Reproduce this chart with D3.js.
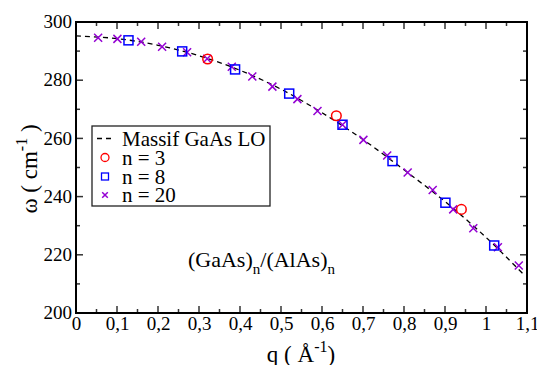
<!DOCTYPE html>
<html><head><meta charset="utf-8">
<script src="https://cdn.jsdelivr.net/npm/d3@7"></script>
<style>body{margin:0;background:#fff}svg{display:block}</style>
</head><body>
<svg id="c" width="537" height="365"></svg>
<script>
// Data
const lineQ = [0, 0.1, 0.2, 0.3, 0.4, 0.5, 0.6, 0.7, 0.8, 0.9, 1.0, 1.09];
const lineW = [295.2, 294.3, 292.0, 288.4, 283.4, 276.9, 268.8, 259.6, 249.2, 238.3, 226.0, 213.5];
const n3Q = [0.321, 0.635, 0.940];
const n3W = [287.3, 267.8, 235.6];
const n8Q = [0.128, 0.259, 0.388, 0.520, 0.650, 0.772, 0.901, 1.020];
const n8W = [293.7, 289.9, 283.7, 275.4, 264.7, 252.2, 237.9, 223.2];
const n20Q = [0.054, 0.101, 0.159, 0.210, 0.271, 0.320, 0.380, 0.430, 0.479, 0.540, 0.589, 0.650, 0.701, 0.759, 0.809, 0.870, 0.920, 0.969, 1.029, 1.080];
const n20W = [294.6, 294.2, 293.2, 291.5, 289.6, 287.4, 284.6, 281.3, 277.8, 273.5, 269.4, 264.7, 259.5, 254.1, 248.3, 242.3, 235.6, 229.1, 222.6, 216.3];
const xTicks = [0, 0.1, 0.2, 0.3, 0.4, 0.5, 0.6, 0.7, 0.8, 0.9, 1.0, 1.1];
const xTickLabels = ["0", "0,1", "0,2", "0,3", "0,4", "0,5", "0,6", "0,7", "0,8", "0,9", "1", "1,1"];
const yTicks = [200, 220, 240, 260, 280, 300];
const legendLabels = ["Massif GaAs LO", "n = 3", "n = 8", "n = 20"];

const FONT = "'Liberation Serif'";
const svg = d3.select("#c");
const L = 76, R = 527, T = 22, B = 313;
const x = d3.scaleLinear().domain([0, 1.1]).range([L, R]);
const y = d3.scaleLinear().domain([200, 300]).range([B, T]);
const violet = "rgb(148,0,211)";

// ticks (inward, all four sides)
const tickCol = "#333";
const xMinor = d3.range(0, 1.1001, 0.05);
const yMinor = d3.range(200, 300.01, 10);
const tk = svg.append("g").attr("stroke", tickCol).attr("stroke-width", 1.5);
xMinor.forEach((v, i) => {
  const len = (i % 2 === 0) ? 7 : 4;
  tk.append("line").attr("x1", x(v)).attr("x2", x(v)).attr("y1", B).attr("y2", B - len);
  tk.append("line").attr("x1", x(v)).attr("x2", x(v)).attr("y1", T).attr("y2", T + len);
});
yMinor.forEach((v, i) => {
  const len = (i % 2 === 0) ? 7 : 4;
  tk.append("line").attr("y1", y(v)).attr("y2", y(v)).attr("x1", L).attr("x2", L + len);
  tk.append("line").attr("y1", y(v)).attr("y2", y(v)).attr("x1", R).attr("x2", R - len);
});

// axes labels via d3 axis (text only)
const xAxis = d3.axisBottom(x).tickValues(xTicks).tickFormat((d, i) => xTickLabels[i]).tickSize(0).tickPadding(4);
const gx = svg.append("g").attr("transform", `translate(0,${B})`).call(xAxis);
gx.select(".domain").remove();
gx.attr("font-family", null);
gx.selectAll("text").attr("font-size", 19);
const yAxis = d3.axisLeft(y).tickValues(yTicks).tickFormat(d3.format("d")).tickSize(0).tickPadding(4);
const gy = svg.append("g").attr("transform", `translate(${L},0)`).call(yAxis);
gy.select(".domain").remove();
gy.attr("font-family", null);
gy.selectAll("text").attr("font-size", 19).attr("dy", "0.3em");

// dashed massif line
const lineData = lineQ.map((q, i) => [q, lineW[i]]);
svg.append("path").datum(lineData)
  .attr("d", d3.line().x(d => x(d[0])).y(d => y(d[1])).curve(d3.curveCatmullRom))
  .attr("fill", "none").attr("stroke", "#000").attr("stroke-width", 1.3).attr("stroke-dasharray", "5,4");

// markers
function cross(g, cx, cy, s, col) {
  g.append("path").attr("d", `M${cx - s},${cy - s}L${cx + s},${cy + s}M${cx - s},${cy + s}L${cx + s},${cy - s}`)
    .attr("stroke", col).attr("stroke-width", 1.5).attr("fill", "none");
}
const mk = svg.append("g");
n20Q.forEach((q, i) => cross(mk, x(q), y(n20W[i]), 4, violet));
n8Q.forEach((q, i) => mk.append("rect").attr("x", x(q) - 4.5).attr("y", y(n8W[i]) - 4.5).attr("width", 9).attr("height", 9)
  .attr("fill", "none").attr("stroke", "#0000ff").attr("stroke-width", 1.5));
n3Q.forEach((q, i) => mk.append("circle").attr("cx", x(q)).attr("cy", y(n3W[i])).attr("r", 4.8)
  .attr("fill", "none").attr("stroke", "#ff0000").attr("stroke-width", 1.5));

// frame
svg.append("rect").attr("x", L).attr("y", T).attr("width", R - L).attr("height", B - T)
  .attr("fill", "none").attr("stroke", "#000").attr("stroke-width", 2);

// legend
const lg = svg.append("g");
lg.append("rect").attr("x", 92).attr("y", 126).attr("width", 178).attr("height", 80)
  .attr("fill", "#fff").attr("stroke", "#222").attr("stroke-width", 1.3);
const rowY = [138.5, 157.5, 176.5, 195];
lg.append("line").attr("x1", 97).attr("x2", 114).attr("y1", rowY[0]).attr("y2", rowY[0])
  .attr("stroke", "#000").attr("stroke-width", 1.3).attr("stroke-dasharray", "5,4");
lg.append("circle").attr("cx", 105).attr("cy", rowY[1]).attr("r", 4).attr("fill", "none").attr("stroke", "#ff0000").attr("stroke-width", 1.3);
lg.append("rect").attr("x", 101.5).attr("y", rowY[2] - 3.5).attr("width", 7).attr("height", 7).attr("fill", "none").attr("stroke", "#0000ff").attr("stroke-width", 1.3);
cross(lg, 105, rowY[3], 2.8, violet);
legendLabels.forEach((t, i) => lg.append("text").attr("x", 122).attr("y", rowY[i] + 7).attr("font-size", 21).text(t));

// annotation
const ann = svg.append("text").attr("x", 188).attr("y", 267).attr("font-size", 22);
ann.append("tspan").text("(GaAs)");
ann.append("tspan").attr("font-size", 15).attr("dy", 7).text("n");
ann.append("tspan").attr("dy", -7).text("/(AlAs)");
ann.append("tspan").attr("font-size", 15).attr("dy", 7).text("n");

// x label
const xl = svg.append("text").attr("x", 301).attr("y", 362).attr("text-anchor", "middle").attr("font-size", 23);
xl.append("tspan").text("q ( Å");
xl.append("tspan").attr("font-size", 16).attr("dy", -10).text("-1");
xl.append("tspan").attr("dy", 10).text(")");

// y label
const yl = svg.append("text").attr("transform", "translate(37,169) rotate(-90)").attr("text-anchor", "middle").attr("font-size", 23);
yl.append("tspan").text("ω  ( cm");
yl.append("tspan").attr("font-size", 16).attr("dy", -10).text("-1");
yl.append("tspan").attr("dy", 10).text(" )");

svg.selectAll("text").style("font-family", FONT).style("fill", "#000");
</script>
</body></html>
